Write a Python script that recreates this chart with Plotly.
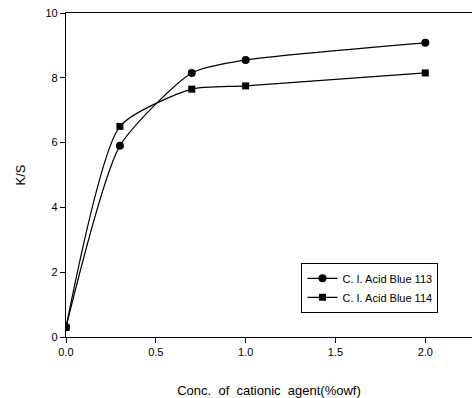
import plotly.graph_objects as go

conc = [0.0, 0.3, 0.7, 1.0, 2.0]
blue113 = [0.3, 5.9, 8.15, 8.55, 9.08]
blue114 = [0.3, 6.5, 7.65, 7.75, 8.15]
names = ["C. I. Acid Blue 113", "C. I. Acid Blue 114"]

fig = go.Figure()
fig.add_trace(go.Scatter(x=conc, y=blue113, name=names[0], mode="lines+markers",
                         line=dict(color="black", width=1.2, shape="spline", smoothing=0.6),
                         marker=dict(symbol="circle", size=8, color="black")))
fig.add_trace(go.Scatter(x=conc, y=blue114, name=names[1], mode="lines+markers",
                         line=dict(color="black", width=1.2, shape="spline", smoothing=0.6),
                         marker=dict(symbol="square", size=7, color="black")))

font = "Liberation Sans, Arial, sans-serif"
fig.update_layout(
    width=472, height=398,
    margin=dict(l=66, r=0, t=13, b=61),
    paper_bgcolor="white", plot_bgcolor="white",
    font=dict(family=font, size=11, color="black"),
    showlegend=True,
    legend=dict(x=0.58, y=0.229, xanchor="left", yanchor="top",
                bordercolor="black", borderwidth=1, bgcolor="white",
                font=dict(size=11), itemwidth=30, tracegroupgap=0),
    xaxis=dict(range=[0, 2.26], tickvals=[0, 0.5, 1.0, 1.5, 2.0],
               ticktext=["0.0", "0.5", "1.0", "1.5", "2.0"],
               showgrid=False, zeroline=False, showline=True, linecolor="black",
               linewidth=1.2, mirror=True, ticks="outside", ticklen=5,
               tickcolor="black",
               title=dict(text="Conc.  of  cationic  agent(%owf)", font=dict(size=13),
                          standoff=28)),
    yaxis=dict(range=[0, 10], tickvals=[0, 2, 4, 6, 8, 10],
               showgrid=False, zeroline=False, showline=True, linecolor="black",
               linewidth=1.2, mirror=False, ticks="outside", ticklen=5,
               tickcolor="black",
               title=dict(text="K/S", font=dict(size=13), standoff=16)),
)
fig.write_html("out.html")
